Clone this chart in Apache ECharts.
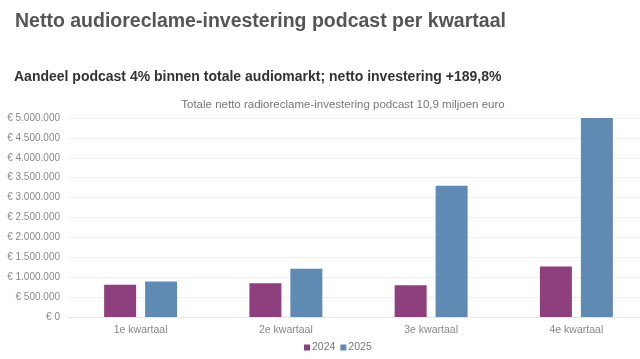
<!DOCTYPE html>
<html>
<head>
<meta charset="utf-8">
<script src="https://cdn.jsdelivr.net/npm/echarts@6/dist/echarts.min.js"></script>
<style>
html,body{margin:0;padding:0;background:#fff;overflow:hidden;width:640px;height:359px;}
#c{width:660px;height:359px;}
</style>
</head>
<body>
<div id="c"></div>
<script>
const categories = ['1e kwartaal', '2e kwartaal', '3e kwartaal', '4e kwartaal'];
const values2024 = [810000, 850000, 800000, 1270000];
const values2025 = [890000, 1210000, 3300000, 5000000];
const seriesNames = ['2024', '2025'];

const chart = echarts.init(document.getElementById('c'), null, {renderer: 'canvas'});
const fmt = v => '€ ' + String(v).replace(/\B(?=(\d{3})+(?!\d))/g, '.');
chart.setOption({
  backgroundColor: '#ffffff',
  animation: false,
  title: [
    {text: 'Netto audioreclame-investering podcast per kwartaal', left: 10, top: 7,
     textStyle: {fontFamily: 'Liberation Sans', fontSize: 19.5, fontWeight: 'bold', color: '#555555'}},
    {text: 'Aandeel podcast 4% binnen totale audiomarkt; netto investering +189,8%', left: 9, top: 65,
     textStyle: {fontFamily: 'Liberation Sans', fontSize: 14, fontWeight: 'bold', color: '#333333'}},
    {text: 'Totale netto radioreclame-investering podcast 10,9 miljoen euro', left: 338, textAlign: 'center', top: 94,
     textStyle: {fontFamily: 'Liberation Sans', fontSize: 11.5, fontWeight: 'normal', color: '#777777'}}
  ],
  legend: {
    data: seriesNames, top: 337, left: 299, itemWidth: 6, itemHeight: 6, itemGap: 5,
    icon: 'rect',
    textStyle: {fontFamily: 'Liberation Sans', fontSize: 10.5, color: '#777777', padding: [0,0,0,-3]}
  },
  grid: {left: 68, top: 118, width: 581, height: 199, containLabel: false},
  xAxis: {
    type: 'category', data: categories,
    axisLine: {show: true, lineStyle: {color: '#e6e6e6'}},
    axisTick: {show: false},
    axisLabel: {fontFamily: 'Liberation Sans', fontSize: 10.5, color: '#888888', margin: 8}
  },
  yAxis: {
    type: 'value', min: 0, max: 5000000, interval: 500000,
    axisLine: {show: false}, axisTick: {show: false},
    splitLine: {lineStyle: {color: '#eeeeee'}},
    axisLabel: {fontFamily: 'Liberation Sans', fontSize: 10, color: '#888888', margin: 8, formatter: fmt}
  },
  series: [
    {name: seriesNames[0], type: 'bar', data: values2024, barWidth: 32, barGap: '28%',
     itemStyle: {color: '#8e3f7e'}},
    {name: seriesNames[1], type: 'bar', data: values2025, barWidth: 32,
     itemStyle: {color: '#5f8ab4'}}
  ]
});
</script>
</body>
</html>
